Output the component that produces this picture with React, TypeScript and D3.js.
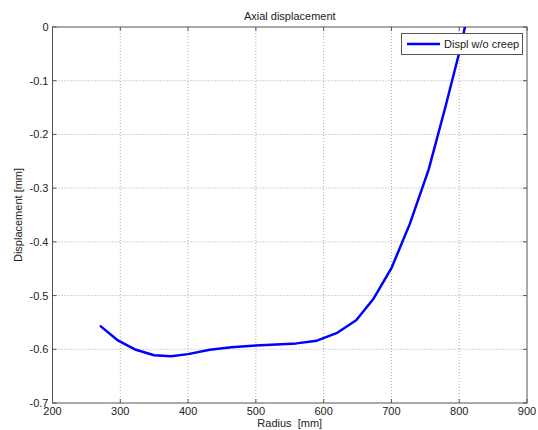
import React from "react";
import * as d3 from "d3";

const radius = [270, 297, 323, 350, 375, 400, 432, 464, 500, 530, 560, 590, 619, 648, 673, 700, 727, 755, 780, 800, 812];
const displ = [-0.556, -0.584, -0.601, -0.611, -0.613, -0.609, -0.601, -0.596, -0.593, -0.591, -0.589, -0.584, -0.570, -0.546, -0.507, -0.449, -0.367, -0.265, -0.147, -0.048, 0.02];
const xTicks = [200, 300, 400, 500, 600, 700, 800, 900];
const yTicks = [0, -0.1, -0.2, -0.3, -0.4, -0.5, -0.6, -0.7];
const seriesName = "Displ w/o creep";

const W = 538, H = 430;
const L = 52.5, R = 527, T = 27, B = 403;

export default function App() {
  const x = d3.scaleLinear().domain([200, 900]).range([L, R]);
  const y = d3.scaleLinear().domain([-0.7, 0]).range([B, T]);
  const line = d3.line<number>().x((_, i) => x(radius[i])).y((d) => y(d));
  const font = "'Liberation Sans', Arial, sans-serif";
  const axisColor = "#555";
  const gridColor = "#aaa";
  return (
    <svg width={W} height={H} style={{ position: "absolute", left: 0, top: 0, background: "#fff" }} fontFamily={font}>
      <rect x={0} y={0} width={W} height={H} fill="#fff" />
      <defs>
        <clipPath id="plotclip">
          <rect x={L} y={T} width={R - L} height={B - T} />
        </clipPath>
      </defs>
      {xTicks.slice(1, -1).map((t) => (
        <line key={"gx" + t} x1={x(t)} x2={x(t)} y1={T} y2={B} stroke={gridColor} strokeWidth={1} strokeDasharray="1,2" />
      ))}
      {yTicks.slice(1, -1).map((t) => (
        <line key={"gy" + t} x1={L} x2={R} y1={y(t)} y2={y(t)} stroke={gridColor} strokeWidth={1} strokeDasharray="1,2" />
      ))}
      <rect x={L} y={T} width={R - L} height={B - T} fill="none" stroke={axisColor} strokeWidth={1} />
      {xTicks.map((t) => (
        <g key={"tx" + t}>
          <line x1={x(t)} x2={x(t)} y1={B} y2={B - 4} stroke={axisColor} />
          <line x1={x(t)} x2={x(t)} y1={T} y2={T + 4} stroke={axisColor} />
          <text x={x(t)} y={B + 12} fontSize={11} textAnchor="middle" fill="#222">{t}</text>
        </g>
      ))}
      {yTicks.map((t) => (
        <g key={"ty" + t}>
          <line x1={L} x2={L + 4} y1={y(t)} y2={y(t)} stroke={axisColor} />
          <line x1={R} x2={R - 4} y1={y(t)} y2={y(t)} stroke={axisColor} />
          <text x={L - 4} y={y(t) + 4} fontSize={11} textAnchor="end" fill="#222">{t === 0 ? "0" : String(t)}</text>
        </g>
      ))}
      <path d={line(displ) || ""} fill="none" stroke="#0000ff" strokeWidth={2.5} clipPath="url(#plotclip)" strokeLinejoin="round" />
      <text x={(L + R) / 2} y={20} fontSize={11} textAnchor="middle" fill="#222">Axial displacement</text>
      <text x={(L + R) / 2} y={427} fontSize={11} textAnchor="middle" fill="#222" style={{ whiteSpace: "pre" }}>Radius  [mm]</text>
      <text transform={`translate(22,${(T + B) / 2}) rotate(-90)`} fontSize={11} textAnchor="middle" fill="#222">Displacement [mm]</text>
      <rect x={401.5} y={33.5} width={121} height={21} fill="#fff" stroke={axisColor} strokeWidth={1} />
      <line x1={407} x2={440} y1={44} y2={44} stroke="#0000ff" strokeWidth={2.5} />
      <text x={444} y={48} fontSize={11} fill="#222">{seriesName}</text>
    </svg>
  );
}
